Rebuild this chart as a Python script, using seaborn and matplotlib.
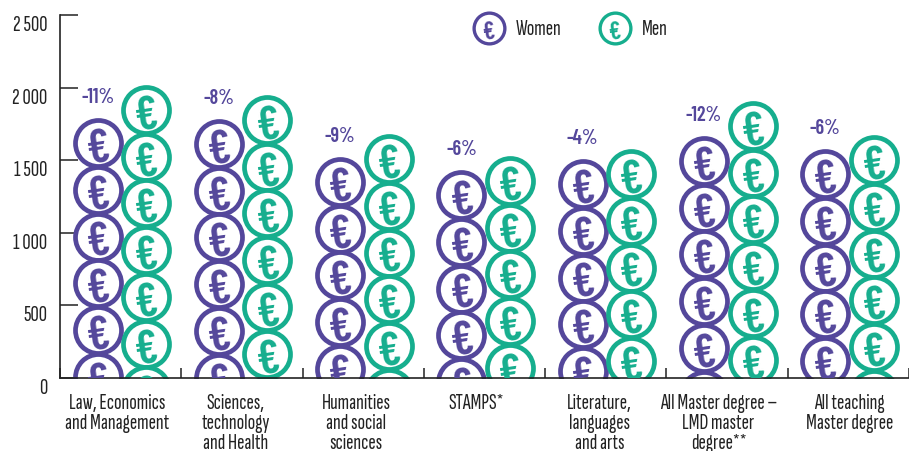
import numpy as np
import pandas as pd
import matplotlib
matplotlib.use("Agg")
import matplotlib.pyplot as plt
import seaborn as sns

sns.set_style("white")
plt.rcParams['font.family'] = ['Sofia Sans Extra Condensed', 'Barlow Condensed', 'Roboto Condensed', 'Liberation Sans Narrow', 'Liberation Sans', 'DejaVu Sans']
BOLD_FONT = ['Barlow Condensed', 'Roboto Condensed', 'Liberation Sans Narrow', 'Liberation Sans', 'DejaVu Sans']

categories = ["Law, Economics\nand Management", "Sciences,\ntechnology\nand Health",
              "Humanities\nand social\nsciences", "STAMPS*",
              "Literature,\nlanguages\nand arts", "All Master degree –\nLMD master\ndegree**",
              "All teaching\nMaster degree"]
women = [1790, 1784, 1522, 1432, 1508, 1667, 1577]
men = [2018, 1949, 1680, 1529, 1577, 1908, 1673]
gaps = ["-11%", "-8%", "-9%", "-6%", "-4%", "-12%", "-6%"]
yticks = [0, 500, 1000, 1500, 2000, 2500]
ytick_labels = ["0", "500", "1 000", "1 500", "2 000", "2 500"]

PURPLE = "#54479B"
GREEN = "#16AE8E"
DARK = "#222222"

# one coin in the stack, in data units
COIN_R = 172
COIN_STEP = 322


def coin_rows(values, offset):
    rows = []
    for i, v in enumerate(values):
        y = v - COIN_R
        while y > -COIN_R:
            rows.append({"x": i + offset, "y": y})
            y -= COIN_STEP
    return pd.DataFrame(rows)


def draw_coins(ax, df, color, size=1097, lw=3.4, fs=34, clip=True):
    sns.scatterplot(data=df, x="x", y="y", color="white", edgecolor=color,
                    linewidth=lw, s=size, ax=ax, legend=False, clip_on=clip)
    for _, r in df.iterrows():
        ax.text(r["x"], r["y"], "€", color=color, fontsize=fs, fontweight=600, family=BOLD_FONT,
                ha="center", va="center_baseline", rotation=8, clip_on=clip, zorder=3)


fig = plt.figure(figsize=(9.09, 4.52), dpi=100)
ax = fig.add_axes([60 / 909, 73 / 452, 849 / 909, 363 / 452])

draw_coins(ax, coin_rows(women, 0.31), PURPLE)
draw_coins(ax, coin_rows(men, 0.71), GREEN)

for i, (v, g) in enumerate(zip(women, gaps)):
    ax.text(i + 0.31, v + 147, g, color=PURPLE, fontsize=14.5, fontweight=600, family=BOLD_FONT,
            ha="center", va="center")

# legend
draw_coins(ax, pd.DataFrame({"x": [3.537], "y": [2410]}), PURPLE, size=490, lw=2.4, fs=18, clip=False)
draw_coins(ax, pd.DataFrame({"x": [4.576], "y": [2410]}), GREEN, size=490, lw=2.4, fs=18, clip=False)
ax.text(3.76, 2410, "Women", color=DARK, fontsize=16, ha="left", va="center")
ax.text(4.80, 2410, "Men", color=DARK, fontsize=16, ha="left", va="center")

ax.set_xlim(0, 7)
ax.set_ylim(0, 2500)
ax.set_xlabel("")
ax.set_ylabel("")
ax.set_axisbelow(True)
sns.despine(ax=ax)
for side in ["left", "bottom"]:
    ax.spines[side].set_color(DARK)
    ax.spines[side].set_linewidth(1.2)

ax.set_yticks(yticks)
ax.set_yticklabels(ytick_labels, fontsize=16.5, color=DARK, va="top")
ax.tick_params(axis="y", direction="in", length=13, width=1.1, color=DARK, pad=9, left=True)

ax.set_xticks(np.arange(0, 8))
ax.set_xticklabels([])
ax.tick_params(axis="x", which="major", direction="in", length=7, width=1.1, color=DARK, bottom=True)
ax.set_xticks([0.47, 1.45, 2.44, 3.43, 4.45, 5.43, 6.51], minor=True)
ax.set_xticklabels(categories, minor=True, fontsize=16, color=DARK, linespacing=1.05, va="top")
ax.tick_params(axis="x", which="minor", length=0, pad=11)

fig.savefig("out.png", dpi=100)
